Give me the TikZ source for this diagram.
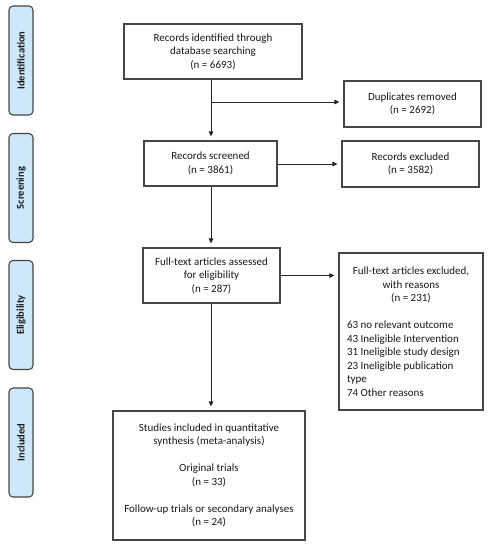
\documentclass[tikz,border=0pt]{standalone}
\usepackage{fontspec}
\setmainfont{Carlito}
\usetikzlibrary{arrows.meta,positioning}
\definecolor{sidefill}{RGB}{204,232,250}
\definecolor{edge}{RGB}{70,70,70}
\definecolor{txt}{RGB}{25,25,25}
\tikzset{
  box/.style={draw=edge, line width=1.1pt, fill=white, text=txt, align=center, inner sep=2pt,
    font=\fontsize{11}{13.5}\selectfont},
  side/.style={draw=edge, line width=1.1pt, fill=sidefill, rounded corners=4pt, rotate=90,
    minimum width=109pt, minimum height=24pt, inner sep=0pt, text=txt,
    font=\bfseries\fontsize{10.5}{12}\selectfont},
  link/.style={draw=black!85, line width=0.9pt, -{Triangle[length=5pt,width=4.5pt]}, shorten >=4pt},
  plain/.style={draw=black!85, line width=0.9pt}
}
\begin{document}
\begin{tikzpicture}[x=1pt,y=1pt]
\path[use as bounding box] (0,0) rectangle (491,-550);
% side labels
\node[side] (sid) at (21,-60.5) {Identification};
\node[side] (ssc) at (21,-188) {Screening};
\node[side] (sel) at (21,-315) {Eligibility};
\node[side] (sin) at (21,-442.5) {Included};
% boxes
\node[box, minimum width=178pt, minimum height=55pt] (b1) at (213,-51.5)
  {Records identified through\\database searching\\(n = 6693)};
\node[box, minimum width=137pt, minimum height=46pt] (dup) at (412.5,-104)
  {Duplicates removed\\(n = 2692)};
\node[box, minimum width=133pt, minimum height=45pt] (scr) at (210.5,-163.5)
  {Records screened\\(n = 3861)};
\node[box, minimum width=137pt, minimum height=46pt] (exc) at (410.5,-164)
  {Records excluded\\(n = 3582)};
\node[box, minimum width=137pt, minimum height=55pt] (ft) at (211.5,-275.5)
  {Full-text articles assessed\\for eligibility\\(n = 287)};
\node[box, minimum width=144pt, minimum height=157pt, inner sep=0pt] (ftx) at (411,-331.5)
  {\parbox[c]{128pt}{\centering Full-text articles excluded,\\with reasons\\(n = 231)\par
   \vspace{13.5pt}\raggedright
   63 no relevant outcome\\
   43 Ineligible Intervention\\
   31 Ineligible study design\\
   23 Ineligible publication\\
   type\\
   74 Other reasons\par}};
\node[box, minimum width=192pt, minimum height=129pt] (inc) at (209,-475.5)
  {Studies included in quantitative\\synthesis (meta-analysis)\\[13.5pt]
   Original trials\\(n = 33)\\[13.5pt]
   Follow-up trials or secondary analyses\\(n = 24)};
% connectors
\coordinate (v1) at (211,-102);
\draw[link] (b1.south -| v1) -- (scr.north -| v1);
\draw[link] (v1) -- (v1 -| dup.west);
\draw[link] (scr.east |- exc.west) -- (exc.west);
\draw[link] (scr.south -| v1) -- (ft.north -| v1);
\draw[link] (ft.east) -- (ft.east -| ftx.west);
\draw[link] (ft.south -| v1) -- (inc.north -| v1);
\end{tikzpicture}
\end{document}
